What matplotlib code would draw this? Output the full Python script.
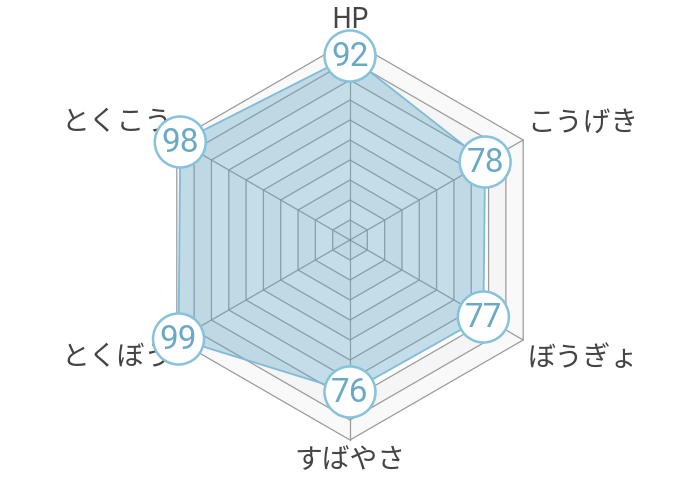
import numpy as np
import matplotlib
matplotlib.use("Agg")
import matplotlib.pyplot as plt
from matplotlib.patches import Polygon, Circle

plt.rcParams['font.family'] = ['Noto Sans CJK JP', 'DejaVu Sans']

# stats, clockwise from the top
labels = ['HP', 'こうげき', 'ぼうぎょ', 'すばやさ', 'とくぼう', 'とくこう']
values = [92, 78, 77, 76, 99, 98]
max_value = 100
ticks = [10, 20, 30, 40, 50, 60, 70, 80, 90, 100]

cx, cy = 350, 240   # centre in pixels
radius = 200        # pixel length of max_value

angles = np.deg2rad(90 - 60 * np.arange(len(labels)))


def to_xy(v, a):
    r = radius * np.asarray(v) / max_value
    return cx + r * np.cos(a), cy - r * np.sin(a)


fig = plt.figure(figsize=(7, 4.8), dpi=100)
ax = fig.add_axes([0, 0, 1, 1])
ax.set_xlim(0, 700)
ax.set_ylim(480, 0)
ax.set_aspect('equal')
ax.axis('off')

# background bands, outer one first
band_colors = ['#f9f9f9', '#f5f5f5', 'white']
for i, t in enumerate(reversed(ticks)):
    xs, ys = to_xy([t] * len(angles), angles)
    face = band_colors[i] if i < 2 else ('white' if i % 2 == 0 else '#f7f7f7')
    ax.add_patch(Polygon(np.column_stack([xs, ys]), closed=True,
                         facecolor=face, edgecolor='#9c9c9c', lw=0.9, zorder=1))

# spokes
for a in angles:
    xs, ys = to_xy([0, max_value], np.array([a, a]))
    ax.plot(xs, ys, color='#9c9c9c', lw=0.9, zorder=2)

# data polygon
xs, ys = to_xy(values, angles)
fill = Polygon(np.column_stack([xs, ys]), closed=True,
               facecolor='#88bcd4', alpha=0.5, edgecolor='none', zorder=3)
ax.add_patch(fill)
ax.add_patch(Polygon(np.column_stack([xs, ys]), closed=True,
                     facecolor='none', edgecolor='#7fbcd8', lw=1.3, zorder=4))
# grid shows a bit darker through the fill
for t in ticks[:-1]:
    gx, gy = to_xy([t] * len(angles), angles)
    ax.add_patch(Polygon(np.column_stack([gx, gy]), closed=True, facecolor='none',
                         edgecolor='#6f8792', lw=0.7, alpha=0.35, zorder=3.5,
                         clip_path=fill))
for a in angles:
    sx, sy = to_xy([0, max_value], np.array([a, a]))
    ln, = ax.plot(sx, sy, color='#6f8792', lw=0.7, alpha=0.35, zorder=3.5)
    ln.set_clip_path(fill)

# axis labels
for lab, a in zip(labels, angles):
    lx, ly = to_xy(102.5, a)
    c, s = np.cos(a), np.sin(a)
    ha = 'center' if abs(c) < 0.1 else ('left' if c > 0 else 'right')
    va = 'bottom' if s > 0 else 'top'
    ax.text(lx, ly, lab, ha=ha, va=va, fontsize=20, color='#444444', zorder=5)

# value bubbles
for v, x, y in zip(values, xs, ys):
    ax.add_patch(Circle((x, y), 25.5, facecolor='white', edgecolor='#86c2dc',
                        lw=1.8, zorder=6))
    ax.text(x, y + 1, str(v), ha='center', va='center', fontsize=24,
            family=['Roboto', 'DejaVu Sans'], fontweight='normal',
            color='#6aa9c6', zorder=7)

fig.savefig('out.png', dpi=100)
